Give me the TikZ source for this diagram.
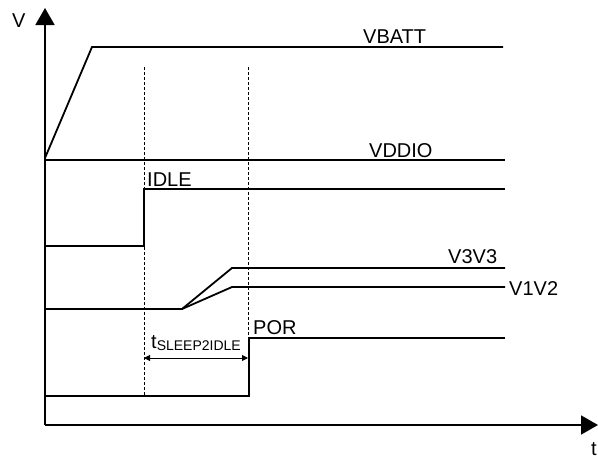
\documentclass[tikz,border=0pt]{standalone}
\usepackage{fontspec}
\setmainfont{Liberation Sans}
\usetikzlibrary{arrows.meta}
\begin{document}
\begin{tikzpicture}[x=1pt,y=-1pt,
  sig/.style={line width=1.8pt},
  axisline/.style={line width=1.8pt,-{Triangle[length=17pt,width=19pt]}},
  guide/.style={line width=0.6pt,dash pattern=on 3pt off 2pt},
  dim/.style={line width=1pt,{Triangle[length=6pt,width=6pt]}-{Triangle[length=6pt,width=6pt]}},
  lbl/.style={inner sep=0pt,anchor=base west,font=\fontsize{20}{24}\selectfont}]
\useasboundingbox (0,0) rectangle (598,458);
% axes
\coordinate (O) at (45,425);
\coordinate (ytip) at (45,8);
\coordinate (xtip) at (598,425);
\draw[axisline] (O) -- (ytip);
\draw[axisline] (O) -- (xtip);
\node[lbl] (vlab) at (12,27) {V};
\node[lbl] (tlab) at (591,455) {t};
% guides
\coordinate (g1a) at (144,67); \coordinate (g1b) at (144,396);
\coordinate (g2a) at (248,67); \coordinate (g2b) at (248,396);
\draw[guide] (g1a) -- (g1b);
\draw[guide] (g2a) -- (g2b);
% VBATT
\coordinate (b0) at (45,158); \coordinate (b1) at (92,47); \coordinate (b2) at (503,47);
\draw[sig] (b0) -- (b1) -- (b2);
\node[lbl] (vbatt) at (363,43) {VBATT};
% VDDIO
\coordinate (d0) at (45,160); \coordinate (d1) at (505,160);
\draw[sig] (d0) -- (d1);
\node[lbl] (vddio) at (369,157) {VDDIO};
% IDLE
\coordinate (i0) at (45,246); \coordinate (i1) at (144,246); \coordinate (i2) at (144,189); \coordinate (i3) at (505,189);
\draw[sig] (i0) -- (i1) -- (i2) -- (i3);
\node[lbl] (idle) at (147,186) {IDLE};
% V3V3 / V1V2
\coordinate (r0) at (45,309); \coordinate (r1) at (182,309);
\coordinate (r2) at (232,268); \coordinate (r3) at (505,268);
\coordinate (s2) at (232,287); \coordinate (s3) at (505,287);
\draw[sig] (r0) -- (r1) -- (r2) -- (r3);
\draw[sig] (r1) -- (s2) -- (s3);
\node[lbl] (v3v3) at (448,263) {V3V3};
\node[lbl] (v1v2) at (509,295) {V1V2};
% POR
\coordinate (p0) at (45,396); \coordinate (p1) at (249,396); \coordinate (p2) at (249,338); \coordinate (p3) at (505,338);
\draw[sig] (p0) -- (p1) -- (p2) -- (p3);
\node[lbl] (por) at (253,334) {POR};
% t_SLEEP2IDLE
\coordinate (a0) at (144,358); \coordinate (a1) at (248,358);
\draw[dim] (a0) -- (a1);
\node[lbl] (tsleep) at (151,348) {t\raisebox{-2pt}{\fontsize{14}{16}\selectfont SLEEP2IDLE}};
\end{tikzpicture}
\end{document}
